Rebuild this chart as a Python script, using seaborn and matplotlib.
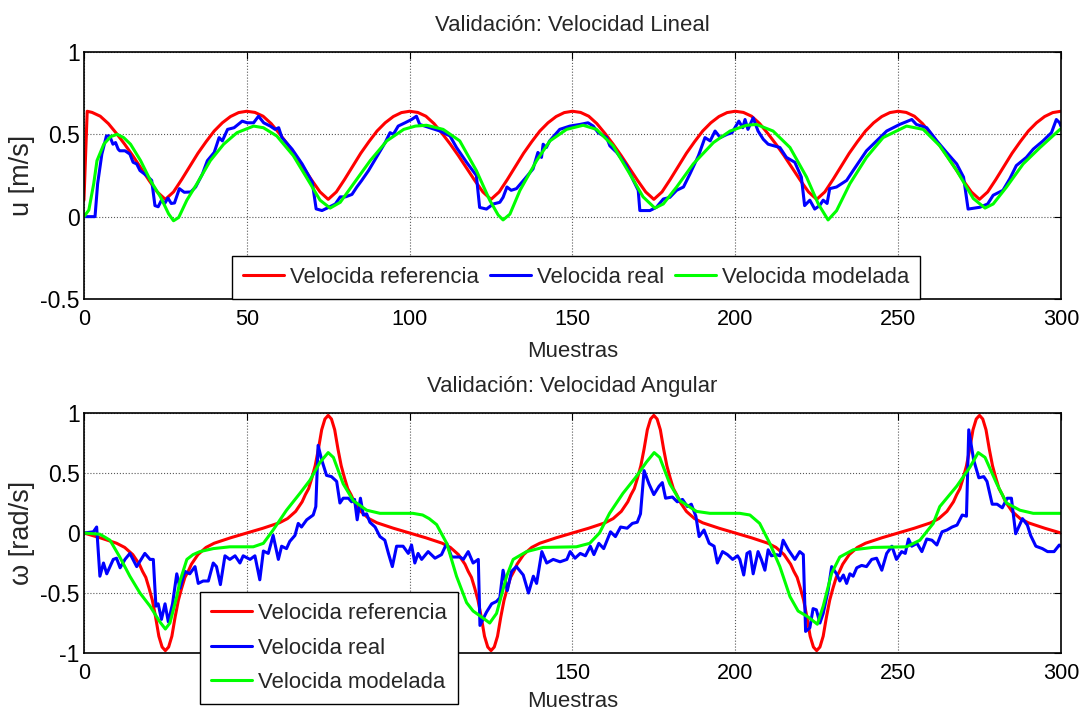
import matplotlib
matplotlib.use("Agg")
import matplotlib.pyplot as plt
import seaborn as sns
from matplotlib import font_manager as fm

# ----------------------------- data -----------------------------
x_ticks = [0, 50, 100, 150, 200, 250, 300]
x_tick_labels_top = ["0", "50", "100", "150", "200", "250", "300"]
# in the lower panel the labels 50 and 100 are hidden behind the legend
x_tick_labels_bottom = ["0", "", "", "150", "200", "250", "300"]
u_ticks = [-0.5, 0, 0.5, 1]
u_tick_labels = ["-0.5", "0", "0.5", "1"]
w_ticks = [-1, -0.5, 0, 0.5, 1]
w_tick_labels = ["-1", "-0.5", "0", "0.5", "1"]
series_names = ["Velocida referencia", "Velocida real", "Velocida modelada"]

# top: linear velocity
u_ref_t = [0, 1] + [2.5 * i for i in range(1, 121)]
u_ref = [0.10, 0.64,
         0.633, 0.61, 0.565, 0.505, 0.44, 0.37, 0.295, 0.22, 0.15, 0.105,
         0.15, 0.225, 0.305, 0.385, 0.455, 0.52, 0.57, 0.608, 0.632, 0.64,
         0.633, 0.61, 0.565, 0.505, 0.44, 0.37, 0.295, 0.22, 0.15, 0.105,
         0.15, 0.225, 0.305, 0.385, 0.455, 0.52, 0.57, 0.608, 0.632, 0.64,
         0.633, 0.61, 0.565, 0.505, 0.44, 0.37, 0.295, 0.22, 0.15, 0.105,
         0.15, 0.225, 0.305, 0.385, 0.455, 0.52, 0.57, 0.608, 0.632, 0.64,
         0.633, 0.61, 0.565, 0.505, 0.44, 0.37, 0.295, 0.22, 0.15, 0.105,
         0.15, 0.225, 0.305, 0.385, 0.455, 0.52, 0.57, 0.608, 0.632, 0.64,
         0.633, 0.61, 0.565, 0.505, 0.44, 0.37, 0.295, 0.22, 0.15, 0.105,
         0.15, 0.225, 0.305, 0.385, 0.455, 0.52, 0.57, 0.608, 0.632, 0.64,
         0.633, 0.61, 0.565, 0.505, 0.44, 0.37, 0.295, 0.22, 0.15, 0.105,
         0.15, 0.225, 0.305, 0.385, 0.455, 0.52, 0.57, 0.608, 0.632, 0.64]

u_real_t = [0, 3.4, 4.2, 5.5, 6.9, 7.9, 8.9, 9.7, 10.5, 11, 12.6, 14.1, 15.1, 16.2, 17.2, 19.2, 20.8,
            21.8, 22.8, 23.8, 24.8, 25.8, 26.8, 27.8, 29.3, 30.8, 32.8, 34.3, 36.4, 37.9, 40, 41.5,
            42.5, 44.1, 46.1, 48.6, 50.1, 52.1, 53.6, 55.2, 57.2, 58.7, 59.8, 60.8, 63.9, 67, 70.1,
            71.3, 73.1, 75.2, 77.2, 78.7, 80.3, 82.3, 83.8, 85.3, 87.4, 90.4, 92.5, 94, 95, 96.5,
            98.6, 100.6, 102.1, 103.1, 106.2, 109.3, 112.4, 114.4, 117.5, 120.5, 121.5, 123.6,
            125.7, 127.7, 128.7, 129.9, 131.2, 132.8, 135.4, 137.9, 139.4, 140.5, 141, 142, 143,
            146.1, 149.2, 152.3, 154.8, 156.4, 157.9, 160.5, 161.5, 163.6, 166.6, 168.7, 170.2,
            170.7, 173.8, 175.8, 177.9, 179.9, 182, 184.1, 186.1, 188.7, 190.7, 192.3, 193.8,
            195.4, 197.5, 199, 201.1, 202.3, 203.0, 203.9, 205.5, 207, 208.6, 210.1, 213.7, 215.7,
            218.3, 220.3, 221.3, 222.9, 224.4, 225.9, 227, 228.2, 229, 231.1, 234.2, 236.2, 240.3,
            243.4, 246.5, 250.5, 254.2, 255.6, 258.8, 261.9, 264.9, 268, 270.1, 271.5, 275.1,
            277.5, 279.2, 282.2, 284.3, 286.3, 289.4, 291.5, 294.5, 297.1, 298.6, 299.6, 300]
u_real = [0, 0, 0.20, 0.38, 0.49, 0.49, 0.44, 0.45, 0.41, 0.40, 0.40, 0.38, 0.33, 0.32, 0.28, 0.25, 0.22,
          0.067, 0.06, 0.10, 0.08, 0.113, 0.08, 0.083, 0.17, 0.148, 0.15, 0.18, 0.26, 0.34, 0.39, 0.48,
          0.46, 0.53, 0.54, 0.58, 0.57, 0.57, 0.61, 0.57, 0.55, 0.53, 0.54, 0.48, 0.41, 0.32, 0.21,
          0.047, 0.037, 0.057, 0.077, 0.12, 0.12, 0.135, 0.18, 0.22, 0.28, 0.38, 0.45, 0.51, 0.50, 0.55,
          0.57, 0.59, 0.61, 0.56, 0.54, 0.52, 0.49, 0.42, 0.33, 0.25, 0.056, 0.046,
          0.077, 0.087, 0.117, 0.18, 0.16, 0.17, 0.23, 0.29, 0.39, 0.36, 0.44, 0.42, 0.46,
          0.53, 0.55, 0.56, 0.57, 0.55, 0.51, 0.48, 0.43, 0.39, 0.31, 0.22, 0.16,
          0.037, 0.037, 0.057, 0.107, 0.117, 0.16, 0.18, 0.26, 0.37, 0.48, 0.46, 0.52,
          0.48, 0.50, 0.51, 0.58, 0.54, 0.59, 0.53, 0.60, 0.52, 0.47, 0.44, 0.42, 0.36,
          0.33, 0.24, 0.067, 0.10, 0.046, 0.067, 0.10, 0.08, 0.17, 0.18, 0.22, 0.28, 0.40,
          0.46, 0.52, 0.56, 0.59, 0.56, 0.54, 0.46, 0.39, 0.32, 0.24, 0.046, 0.057,
          0.077, 0.13, 0.16, 0.23, 0.31, 0.36, 0.41, 0.46, 0.51, 0.59, 0.57, 0.55]

u_mod_t = [0, 1.5, 3, 4, 6.1, 8.2, 10.2, 12.2, 14.3, 17.4, 20.4, 23.5, 26, 27.5, 29.1, 31.6, 34.7, 38.8,
           42.9, 47, 52.1, 55.1, 59.2, 64.3, 69.5, 72.5, 75.6, 78.7, 82.8, 87.9, 93, 98.2, 101.8,
           105.2, 110.3, 115.4, 120.5, 124.6, 127.2, 128.7, 130.8, 133.9, 139, 143.1, 148.2, 153.3,
           157.4, 162.5, 167.6, 171.7, 175.3, 177.9, 182, 187.1, 193.3, 198.4, 203.5, 206.5, 211.6,
           216.8, 221.9, 225.5, 228.5, 231.1, 235.2, 240.3, 245.4, 252.6, 257.7, 262.8, 268, 273.1,
           276.7, 279.2, 283.3, 288.4, 293.6, 300]
u_mod = [0, 0.04, 0.20, 0.34, 0.44, 0.486, 0.50, 0.48, 0.44, 0.34, 0.22, 0.12, 0.017, -0.025, -0.005, 0.10, 0.20, 0.34,
         0.44, 0.51, 0.55, 0.54, 0.49, 0.37, 0.20, 0.10, 0.052, 0.087, 0.20, 0.34, 0.46, 0.53, 0.55,
         0.555, 0.53, 0.46, 0.28, 0.10, 0.01, -0.02, 0.015, 0.16, 0.34, 0.46, 0.53, 0.555,
         0.53, 0.43, 0.26, 0.12, 0.052, 0.077, 0.18, 0.32, 0.45, 0.52, 0.555, 0.56, 0.52,
         0.42, 0.24, 0.077, -0.02, 0.036, 0.20, 0.36, 0.48, 0.55, 0.53, 0.43, 0.28, 0.11,
         0.052, 0.077, 0.18, 0.32, 0.42, 0.535]

# bottom: angular velocity
w_ref_t = [h + o for h in range(0, 300, 50)
           for o in (0, 5, 10, 12.5, 15, 17, 18, 19, 20, 21, 22, 23, 24, 25, 26, 27, 28, 29, 30, 31,
                     32, 33, 35, 37.5, 40, 45)] + [300]
w_ref = [0.0, -0.04, -0.085, -0.12, -0.18, -0.26, -0.32, -0.37, -0.46, -0.56, -0.70, -0.86, -0.95,
         -0.98, -0.95, -0.86, -0.70, -0.56, -0.46, -0.37, -0.32, -0.26, -0.18, -0.12, -0.085, -0.04,
         0.0, 0.04, 0.085, 0.12, 0.18, 0.26, 0.32, 0.37, 0.46, 0.56, 0.70, 0.86, 0.95,
         0.98, 0.95, 0.86, 0.70, 0.56, 0.46, 0.37, 0.32, 0.26, 0.18, 0.12, 0.085, 0.04,
         0.0, -0.04, -0.085, -0.12, -0.18, -0.26, -0.32, -0.37, -0.46, -0.56, -0.70, -0.86, -0.95,
         -0.98, -0.95, -0.86, -0.70, -0.56, -0.46, -0.37, -0.32, -0.26, -0.18, -0.12, -0.085, -0.04,
         0.0, 0.04, 0.085, 0.12, 0.18, 0.26, 0.32, 0.37, 0.46, 0.56, 0.70, 0.86, 0.95,
         0.98, 0.95, 0.86, 0.70, 0.56, 0.46, 0.37, 0.32, 0.26, 0.18, 0.12, 0.085, 0.04,
         0.0, -0.04, -0.085, -0.12, -0.18, -0.26, -0.32, -0.37, -0.46, -0.56, -0.70, -0.86, -0.95,
         -0.98, -0.95, -0.86, -0.70, -0.56, -0.46, -0.37, -0.32, -0.26, -0.18, -0.12, -0.085, -0.04,
         0.0, 0.04, 0.085, 0.12, 0.18, 0.26, 0.32, 0.37, 0.46, 0.56, 0.70, 0.86, 0.95,
         0.98, 0.95, 0.86, 0.70, 0.56, 0.46, 0.37, 0.32, 0.26, 0.18, 0.12, 0.085, 0.04,
         0.0]

w_real_t = [0, 2.9, 3.9, 4.9, 6, 7, 9, 10, 11.1, 12.6, 14.1, 16.2, 18.7, 20.3, 21.3, 22.1, 22.8, 23.8,
            24.9, 25.9, 27.2, 28.5, 29.5, 31, 32.5, 34.1, 35.1, 36.6, 38.2, 39.7, 40.7, 41.9, 43.3,
            44.8, 46.4, 47.9, 48.9, 51, 52.5, 54, 55.1, 56.6, 58.1, 59.7, 60.7, 62.2, 63.2, 64.8,
            65.8, 66.8, 68.4, 70.4, 71.2, 71.9, 73, 74.5, 76, 77.6, 78.6, 79.6, 81.2, 82.2, 83.1,
            83.9, 84.9, 85.8, 86.8, 87.8, 89.4, 90.9, 92.4, 93.5, 94.7, 96, 98, 99.6, 100.6, 101.6,
            102.6, 103.7, 105.7, 107.8, 109.8, 111.4, 112.9, 115.5, 116.5, 118, 119.5, 121.1, 121.6,
            123.6, 125.2, 126.7, 127.7, 128.7, 130, 131.3, 132.8, 134.9, 136.5, 138, 139, 140.6,
            142.1, 144.1, 146.2, 148.3, 149.3, 150.8, 152.4, 154, 155.5, 156.6, 158.1, 159.6, 161.7,
            163.2, 164.8, 166.8, 168.4, 169.9, 170.9, 172, 173.5, 175, 176.6, 177.6, 178.6, 180.7,
            182.2, 183.8, 185.3, 186.5, 187.9, 188.9, 190.4, 192, 193.5, 194.5, 196.1, 197.6, 199.2,
            200.7, 201.4, 202.6, 203.6, 204.5, 205.5, 207, 208, 209.1, 210.1, 211.1, 212.7, 213.7,
            214.7, 216.3, 218.3, 219.8, 220.9, 221.6, 222.9, 223.9, 224.9, 226, 227, 228.5, 229.6,
            231.1, 232.1, 233.2, 234.2, 235.2, 236.2, 237.3, 238.8, 240.3, 241.9, 243.4, 245, 246.5,
            248.1, 249.5, 251.1, 252.2, 253.2, 254.2, 255.8, 257.3, 258.8, 260.4, 261.9, 263.5, 265,
            266.6, 268.1, 269.7, 271, 271.7, 273.2, 274.8, 276.3, 277.3, 278.9, 280.4, 282, 283.5,
            284.8, 286.1, 288.2, 289.7, 290.7, 292.3, 294.3, 295.9, 297.9, 299.5, 300]
w_real = [0, 0.01, 0.05, -0.36, -0.25, -0.34, -0.22, -0.21, -0.29, -0.22, -0.17, -0.28, -0.17, -0.22, -0.22, -0.61, -0.59, -0.72,
          -0.59, -0.74, -0.59, -0.34, -0.46, -0.32, -0.34, -0.28, -0.42, -0.40, -0.40, -0.25, -0.28, -0.43, -0.19,
          -0.22, -0.19, -0.25, -0.19, -0.22, -0.19, -0.39, -0.15, -0.17, -0.02, -0.22, -0.11, -0.13, -0.07, -0.02,
          0.08, 0.05, 0.11, 0.15, 0.22, 0.73, 0.61, 0.48, 0.47, 0.43, 0.25, 0.29, 0.29, 0.26, 0.28,
          0.11, 0.29, 0.15, 0.16, 0.09, 0.05, -0.03, -0.06, -0.17, -0.28, -0.11, -0.11, -0.17, -0.10, -0.25,
          -0.17, -0.22, -0.155, -0.21, -0.18, -0.086, -0.20, -0.20, -0.22, -0.155, -0.25, -0.22, -0.77,
          -0.66, -0.59, -0.57, -0.54, -0.31, -0.48, -0.32, -0.28, -0.35, -0.50, -0.36, -0.42, -0.155,
          -0.25, -0.22, -0.24, -0.22, -0.155, -0.21, -0.17, -0.19, -0.11, -0.18, -0.086, -0.13, 0.01,
          -0.03, 0.05, 0.04, 0.08, 0.09, 0.16, 0.52, 0.41, 0.32, 0.39, 0.42, 0.29, 0.30,
          0.26, 0.28, 0.22, 0.24, 0.14, -0.03, 0.025, -0.086, -0.11, -0.25, -0.155, -0.18, -0.22,
          -0.19, -0.22, -0.35, -0.17, -0.155, -0.34, -0.155, -0.22, -0.31, -0.14, -0.19, -0.18, -0.19,
          -0.06, -0.14, -0.22, -0.155, -0.18, -0.82, -0.79, -0.63, -0.64, -0.75, -0.67, -0.48, -0.28,
          -0.34, -0.40, -0.35, -0.42, -0.34, -0.36, -0.29, -0.27, -0.28, -0.22, -0.21, -0.31, -0.17,
          -0.11, -0.22, -0.155, -0.17, -0.05, -0.11, -0.086, -0.155, -0.05, -0.06, -0.10, 0.01, 0.025,
          0.05, 0.066, 0.15, 0.14, 0.86, 0.61, 0.46, 0.47, 0.43, 0.24, 0.24, 0.21, 0.29,
          0.29, -0.006, 0.12, 0.066, -0.02, -0.11, -0.13, -0.155, -0.155, -0.10, -0.11]

w_mod_t = [0, 4.9, 8, 11, 14.1, 17.2, 20.3, 23.3, 25, 26.4, 28.5, 29.5, 31.6, 33.5, 35.6, 39.7, 44.8, 52,
           55.1, 58.1, 62.2, 66.3, 69.4, 72.5, 75, 76.6, 79.6, 82.7, 86.8, 90.9, 101, 104, 106, 108.3,
           111.4, 114.4, 117.5, 119.5, 122.1, 124.6, 126.7, 129.8, 131.8, 135.9, 141, 151.2, 155.3,
           158.3, 161.4, 165.5, 169.6, 172.7, 175.1, 176.8, 179.9, 183, 188.1, 192.2, 201.4, 204.5,
           207.5, 210.6, 213.7, 216.8, 219.3, 222.4, 225.2, 227, 229.6, 232.1, 236.2, 242.3, 252.6,
           256.7, 260.8, 262.8, 268, 272.1, 274.6, 276.7, 280.3, 283.3, 287.4, 291.5, 300]
w_mod = [0, -0.01, -0.06, -0.20, -0.36, -0.50, -0.61, -0.74, -0.80, -0.75, -0.53, -0.40, -0.22, -0.18, -0.155, -0.13, -0.115, -0.115,
         -0.086, 0.025, 0.19, 0.33, 0.44, 0.59, 0.67, 0.63, 0.41, 0.27, 0.19, 0.164, 0.164, 0.15, 0.12, 0.07,
         -0.086, -0.36, -0.58, -0.65, -0.70, -0.75, -0.67, -0.36, -0.22, -0.155, -0.12, -0.115, -0.086,
         0.0, 0.164, 0.33, 0.47, 0.59, 0.67, 0.63, 0.41, 0.27, 0.18, 0.164, 0.164, 0.15,
         0.08, -0.086, -0.28, -0.53, -0.65, -0.70, -0.76, -0.61, -0.335, -0.20, -0.14, -0.12, -0.115,
         -0.06, 0.08, 0.22, 0.39, 0.55, 0.67, 0.63, 0.41, 0.25, 0.19, 0.164, 0.164]

# ----------------------------- style -----------------------------
sns.set_style("white")
avail = {f.name for f in fm.fontManager.ttflist}
REG = "Liberation Sans" if "Liberation Sans" in avail else "DejaVu Sans"
if "Liberation Sans Narrow" in avail:
    NARROW, NK = "Liberation Sans Narrow", 1.0
else:
    NARROW, NK = REG, 0.84
plt.rcParams["font.family"] = [REG, "DejaVu Sans"]
plt.rcParams["axes.unicode_minus"] = False

COLORS = ["#ff0000", "#0000ff", "#00ff00"]
LW = 2.2

fig = plt.figure(figsize=(10.86, 7.18), dpi=100)
fig.patch.set_facecolor("white")
ax1 = fig.add_axes([0.0773, 0.5836, 0.8996, 0.3440])
ax2 = fig.add_axes([0.0773, 0.0905, 0.8996, 0.3343])


def draw(ax, series):
    for (t, v), name, c in zip(series, series_names, COLORS):
        sns.lineplot(x=t, y=v, ax=ax, color=c, linewidth=LW, label=name, sort=False,
                     estimator=None)


def style(ax, ylim, yticks, ylabels, xlabels, ylabel, title, labelpad):
    ax.set_xlim(0, 300)
    ax.set_ylim(*ylim)
    ax.set_xticks(x_ticks)
    ax.set_xticklabels(xlabels, fontfamily=NARROW, fontsize=18.5 * NK)
    ax.set_yticks(yticks)
    ax.set_yticklabels(ylabels, fontfamily=REG, fontsize=16.5)
    ax.tick_params(direction="in", length=5, width=0.8, top=True, right=True,
                   colors="black")
    ax.tick_params(axis="x", pad=7)
    ax.tick_params(axis="y", pad=3)
    ax.grid(True, linestyle=":", color="0.35", linewidth=0.8)
    ax.set_axisbelow(True)
    for s in ax.spines.values():
        s.set_color("black")
        s.set_linewidth(1.2)
    ax.set_xlabel("Muestras", fontfamily=NARROW, fontsize=19 * NK, labelpad=labelpad)
    ax.set_ylabel(ylabel, fontfamily=REG, fontsize=19.5)
    ax.set_title(title, fontfamily=NARROW, fontsize=19 * NK, pad=15)


draw(ax1, [(u_ref_t, u_ref), (u_real_t, u_real), (u_mod_t, u_mod)])
draw(ax2, [(w_ref_t, w_ref), (w_real_t, w_real), (w_mod_t, w_mod)])

style(ax1, (-0.5, 1), u_ticks, u_tick_labels, x_tick_labels_top, "u [m/s]",
      "Validación: Velocidad Lineal", 8)
style(ax2, (-1, 1), w_ticks, w_tick_labels, x_tick_labels_bottom, "ω [rad/s]",
      "Validación: Velocidad Angular", 5)
ax1.yaxis.set_label_coords(-0.050, 0.5)
ax2.yaxis.set_label_coords(-0.050, 0.5)

leg_kw = dict(prop={"family": NARROW, "size": 19 * NK}, frameon=True, fancybox=False,
              framealpha=1, edgecolor="black", borderaxespad=0, handlelength=1.86,
              handletextpad=0.25, borderpad=0.5)
l1 = ax1.legend(loc="lower center", bbox_to_anchor=(0.5036, 0.0), ncol=3,
                columnspacing=0.5, **leg_kw)
l2 = ax2.legend(loc="upper left", bbox_to_anchor=(0.1187, 0.254), ncol=1,
                labelspacing=0.61, **leg_kw)
for lg in (l1, l2):
    lg.get_frame().set_linewidth(1.0)
    lg.set_zorder(10)

fig.savefig("out.png", dpi=100)
